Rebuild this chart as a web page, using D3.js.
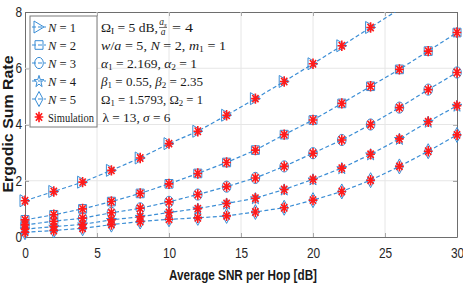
<!DOCTYPE html>
<html>
<head>
<meta charset="utf-8">
<script src="https://cdn.jsdelivr.net/npm/d3@7/dist/d3.min.js"></script>
<style>
  body { margin: 0; background: #fff; }
  svg { display: block; }
</style>
</head>
<body>
<div id="chart"></div>
<script>
// x values (dB) and one array per curve
const snr = [0, 2, 4, 6, 8, 10, 12, 14, 16, 18, 20, 22, 24, 26, 28, 30];
const rateN1 = [1.29, 1.62, 1.95, 2.37, 2.81, 3.32, 3.76, 4.33, 4.92, 5.53, 6.16, 6.80, 7.45, 8.10, 8.76, 9.42];
const rateN2 = [0.61, 0.79, 1.00, 1.26, 1.55, 1.89, 2.26, 2.65, 3.09, 3.64, 4.16, 4.75, 5.36, 5.96, 6.61, 7.27];
const rateN3 = [0.43, 0.56, 0.67, 0.86, 1.02, 1.25, 1.51, 1.79, 2.10, 2.51, 2.98, 3.45, 4.00, 4.60, 5.24, 5.85];
const rateN4 = [0.28, 0.37, 0.45, 0.61, 0.72, 0.87, 1.01, 1.19, 1.38, 1.69, 2.05, 2.45, 2.94, 3.49, 4.10, 4.67];
const rateN5 = [0.17, 0.23, 0.31, 0.44, 0.55, 0.63, 0.68, 0.75, 0.89, 1.04, 1.31, 1.62, 2.02, 2.51, 3.05, 3.63];
const seriesNames = ['N = 1', 'N = 2', 'N = 3', 'N = 4', 'N = 5'];
const markerKinds = ['triangle', 'square', 'circle', 'pentagram', 'diamond'];
const xTicks = [0, 5, 10, 15, 20, 25, 30];
const yTicks = [0, 2, 4, 6, 8];

const W = 463, H = 284;
const blue = '#3a8dd5';
const red = '#ff1a1a';
const margin = {left: 25, right: 6, top: 12, bottom: 47};

const svg = d3.select('#chart').append('svg')
  .attr('width', W).attr('height', H)
  .style('font-family', '"Liberation Sans", Arial, sans-serif');

const x = d3.scaleLinear().domain([0, 30]).range([margin.left, W - margin.right]);
const y = d3.scaleLinear().domain([0, 8]).range([H - margin.bottom, margin.top]);

svg.append('defs').append('clipPath').attr('id', 'plotclip')
  .append('rect')
  .attr('x', x(0)).attr('y', y(8))
  .attr('width', x(30) - x(0)).attr('height', y(0) - y(8));

// grid
let grid = svg.append('g').attr('stroke', '#e6e6e6').attr('stroke-width', 1);
grid.selectAll('line.gx').data(xTicks.slice(1, -1)).enter().append('line')
  .attr('x1', d => x(d)).attr('x2', d => x(d))
  .attr('y1', y(0)).attr('y2', y(8));
grid.selectAll('line.gy').data(yTicks.slice(1, -1)).enter().append('line')
  .attr('x1', x(0)).attr('x2', x(30))
  .attr('y1', d => y(d)).attr('y2', d => y(d));

// marker paths (figure is squeezed a bit horizontally)
function markerPath(kind) {
  if (kind === 'triangle') return 'M-5,-6L5,0L-5,6Z';
  if (kind === 'square') return 'M-4,-4.3H4V4.3H-4Z';
  if (kind === 'circle') return 'M-4.3,0A4.3,5.6 0 1,0 4.3,0A4.3,5.6 0 1,0 -4.3,0Z';
  if (kind === 'diamond') return 'M0,-7.5L4,0L0,7.5L-4,0Z';
  if (kind === 'pentagram') {
    let pts = [];
    for (let i = 0; i < 10; i++) {
      let r = i % 2 === 0 ? 6.2 : 2.5;
      let a = -Math.PI / 2 + i * Math.PI / 5;
      pts.push([0.85 * r * Math.cos(a), r * Math.sin(a) + 0.6]);
    }
    return 'M' + pts.map(p => p[0].toFixed(2) + ',' + p[1].toFixed(2)).join('L') + 'Z';
  }
  return '';
}
const asterisk = 'M-4.3,0H4.3M0,-5.2V5.2M-3.1,-3.7L3.1,3.7M-3.1,3.7L3.1,-3.7';

const allRates = [rateN1, rateN2, rateN3, rateN4, rateN5];
let plot = svg.append('g').attr('clip-path', 'url(#plotclip)');
let marks = svg.append('g');

// points inside the y range get markers (like MATLAB, markers are not cut at the box)
function visiblePoints(rates) {
  return snr.map((s, i) => [s, rates[i]]).filter(d => d[1] <= y.domain()[1]);
}

let line = d3.line().x(d => x(d[0])).y(d => y(d[1]));
allRates.forEach(function (rates) {
  plot.append('path')
    .datum(snr.map((s, i) => [s, rates[i]]))
    .attr('d', line)
    .attr('fill', 'none')
    .attr('stroke', blue)
    .attr('stroke-width', 1.2)
    .attr('stroke-dasharray', '4,2.5');
});
allRates.forEach(function (rates, k) {
  marks.selectAll(null)
    .data(visiblePoints(rates))
    .enter().append('path')
    .attr('transform', d => 'translate(' + x(d[0]) + ',' + y(d[1]) + ')')
    .attr('d', markerPath(markerKinds[k]))
    .attr('fill', 'none')
    .attr('stroke', blue)
    .attr('stroke-width', 1);
});
allRates.forEach(function (rates) {
  marks.selectAll(null)
    .data(visiblePoints(rates))
    .enter().append('path')
    .attr('transform', d => 'translate(' + x(d[0]) + ',' + y(d[1]) + ')')
    .attr('d', asterisk)
    .attr('fill', 'none')
    .attr('stroke', red)
    .attr('stroke-width', 1.6);
});

// axes, MATLAB style box with inward ticks
function styleAxis(g) {
  g.select('.domain').attr('stroke', '#6e6e6e');
  g.selectAll('.tick line').attr('stroke', '#6e6e6e');
  g.selectAll('.tick text').attr('fill', '#262626').style('font-size', '14px')
    .attr('transform', 'scale(0.85,1)');
}
svg.insert('g', 'g').attr('transform', 'translate(0,' + y(0) + ')')
  .call(d3.axisBottom(x).tickValues(xTicks).tickSizeInner(-4).tickSizeOuter(0).tickPadding(11.5))
  .call(styleAxis);
svg.insert('g', 'g').attr('transform', 'translate(0,' + y(8) + ')')
  .call(d3.axisTop(x).tickValues(xTicks).tickSizeInner(-4).tickSizeOuter(0).tickFormat(''))
  .call(styleAxis);
svg.insert('g', 'g').attr('transform', 'translate(' + x(0) + ',0)')
  .call(d3.axisLeft(y).tickValues(yTicks).tickSizeInner(-4).tickSizeOuter(0).tickPadding(3.5))
  .call(styleAxis);
svg.insert('g', 'g').attr('transform', 'translate(' + x(30) + ',0)')
  .call(d3.axisRight(y).tickValues(yTicks).tickSizeInner(-4).tickSizeOuter(0).tickFormat(''))
  .call(styleAxis);

svg.selectAll('.tick text').style('font-family', '"Liberation Sans", Arial, sans-serif');

// axis titles
svg.append('text')
  .attr('x', 243).attr('y', 280)
  .attr('text-anchor', 'middle')
  .attr('textLength', 148).attr('lengthAdjust', 'spacingAndGlyphs')
  .style('font-size', '14.5px').style('font-weight', 'bold').attr('fill', '#1a1a1a')
  .text('Average SNR per Hop  [dB]');
svg.append('text')
  .attr('transform', 'translate(13,124) rotate(-90)')
  .attr('text-anchor', 'middle')
  .attr('textLength', 137).attr('lengthAdjust', 'spacingAndGlyphs')
  .style('font-size', '14.5px').style('font-weight', 'bold').attr('fill', '#1a1a1a')
  .text('Ergodic Sum Rate');

// legend
let legend = svg.append('g').style('font-family', '"Liberation Serif", "Times New Roman", serif');
legend.append('rect')
  .attr('x', 30).attr('y', 16).attr('width', 67).attr('height', 111)
  .attr('fill', '#fff').attr('stroke', '#7a7a7a').attr('stroke-width', 1);
seriesNames.forEach(function (name, k) {
  let ly = 27 + k * 18;
  legend.append('line')
    .attr('x1', 32).attr('x2', 46).attr('y1', ly).attr('y2', ly)
    .attr('stroke', blue).attr('stroke-width', 1.2).attr('stroke-dasharray', '4,2');
  legend.append('path')
    .attr('transform', 'translate(39,' + ly + ')')
    .attr('d', markerPath(markerKinds[k]))
    .attr('fill', 'none').attr('stroke', blue).attr('stroke-width', 1);
  let t = legend.append('text').attr('x', 48).attr('y', ly + 4.5)
    .style('font-size', '13px').attr('fill', '#1a1a1a')
    .attr('textLength', 28).attr('lengthAdjust', 'spacingAndGlyphs');
  t.append('tspan').style('font-style', 'italic').text('N');
  t.append('tspan').text(name.slice(1));
});
legend.append('path')
  .attr('transform', 'translate(39,117)')
  .attr('d', asterisk)
  .attr('fill', 'none').attr('stroke', red).attr('stroke-width', 1.6);
legend.append('text').attr('x', 48).attr('y', 121.5)
  .style('font-size', '12.5px').attr('fill', '#1a1a1a')
  .attr('textLength', 46).attr('lengthAdjust', 'spacingAndGlyphs')
  .text('Simulation');

// parameter block
const paramRows = [
  [['Ω', ''], ['I', 'sub'], [' = 5 dB,', '']],
  [['w', 'i'], ['/', ''], ['a', 'i'], [' = 5, ', ''], ['N', 'i'], [' = 2, ', ''], ['m', 'i'], ['1', 'sub'], [' = 1', '']],
  [['α', 'i'], ['1', 'sub'], [' = 2.169, ', ''], ['α', 'i'], ['2', 'sub'], [' = 1', '']],
  [['β', 'i'], ['1', 'sub'], [' = 0.55, ', ''], ['β', 'i'], ['2', 'sub'], [' = 2.35', '']],
  [['Ω', ''], ['1', 'sub'], [' = 1.5793, ', ''], ['Ω', ''], ['2', 'sub'], [' = 1', '']],
  [['λ', ''], [' = 13, ', ''], ['σ', 'i'], [' = 6', '']]
];
const paramWidths = [57, 125, 96, 102, 102, 68];
let params = svg.append('g')
  .style('font-family', '"Liberation Serif", "Times New Roman", serif')
  .attr('fill', '#1a1a1a');
paramRows.forEach(function (row, r) {
  let ty = 31.5 + r * 18;
  let t = params.append('text').attr('x', r === 5 ? 102.5 : 101).attr('y', ty)
    .style('font-size', '13px')
    .attr('textLength', paramWidths[r]).attr('lengthAdjust', 'spacingAndGlyphs');
  let shifted = false;
  row.forEach(function (part) {
    let ts = t.append('tspan').text(part[0]);
    if (part[1] === 'i') ts.style('font-style', 'italic');
    if (part[1] === 'sub') {
      ts.style('font-size', '9px').attr('dy', 2.5);
      shifted = true;
    } else if (shifted) {
      ts.attr('dy', -2.5);
      shifted = false;
    }
  });
});
// the a_s / a fraction on the first row
let frac = params.append('g');
frac.append('text').attr('x', 163).attr('y', 25).attr('text-anchor', 'middle')
  .style('font-size', '9.5px').style('font-style', 'italic').text('a')
  .append('tspan').style('font-size', '7px').attr('dy', 1.5).text('s');
frac.append('line').attr('x1', 159).attr('x2', 167).attr('y1', 27.5).attr('y2', 27.5)
  .attr('stroke', '#1a1a1a').attr('stroke-width', 0.6);
frac.append('text').attr('x', 163).attr('y', 35).attr('text-anchor', 'middle')
  .style('font-size', '9.5px').style('font-style', 'italic').text('a');
params.append('text').attr('x', 172).attr('y', 31.5)
  .style('font-size', '13px')
  .attr('textLength', 21).attr('lengthAdjust', 'spacingAndGlyphs')
  .text('= 4');
</script>
</body>
</html>
